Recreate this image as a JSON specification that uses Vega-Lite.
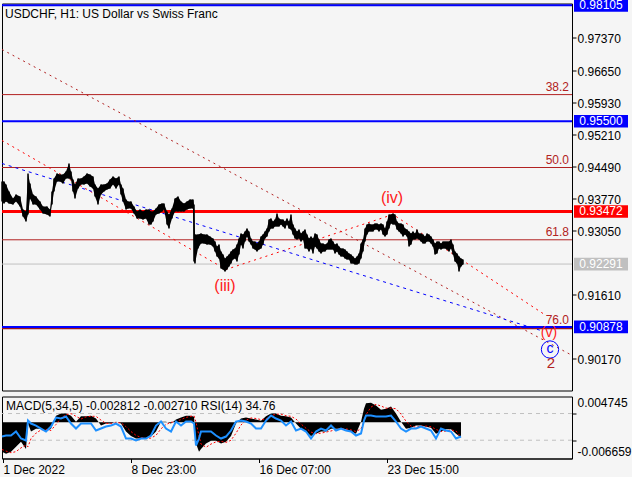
{
  "$schema": "https://vega.github.io/schema/vega-lite/v6.json",
  "background": "#f5f5f5",
  "padding": {"left": -3, "top": -2.5, "right": 0, "bottom": 0},
  "spacing": 4,
  "config": {
    "view": {"stroke": "black", "strokeWidth": 1},
    "font": "Liberation Sans",
    "text": {"font": "Liberation Sans"},
    "axis": {"labelFont": "Liberation Sans", "labelFontSize": 12, "labelColor": "black", "domainColor": "black", "tickColor": "black", "grid": false}
  },
  "datasets": {
    "price": [
      {"t":1,"hi":0.94146,"lo":0.93697},{"t":3,"hi":0.94146,"lo":0.93652},{"t":5,"hi":0.94078,"lo":0.93697},{"t":8,"hi":0.93921,"lo":0.93652},
      {"t":12,"hi":0.93764,"lo":0.93629},{"t":15,"hi":0.93854,"lo":0.93697},{"t":19,"hi":0.93809,"lo":0.93584},{"t":22,"hi":0.93517,"lo":0.93360},
      {"t":25,"hi":0.93472,"lo":0.93247},{"t":27,"hi":0.94326,"lo":0.93405},{"t":29,"hi":0.94101,"lo":0.93764},{"t":32,"hi":0.93854,"lo":0.93629},
      {"t":35,"hi":0.93809,"lo":0.93629},{"t":39,"hi":0.93697,"lo":0.93517},{"t":42,"hi":0.93584,"lo":0.93427},{"t":46,"hi":0.93584,"lo":0.93405},
      {"t":49,"hi":0.93517,"lo":0.93360},{"t":51,"hi":0.93921,"lo":0.93629},{"t":53,"hi":0.94213,"lo":0.93921},{"t":56,"hi":0.94326,"lo":0.94146},
      {"t":59,"hi":0.94303,"lo":0.94146},{"t":62,"hi":0.94303,"lo":0.94101},{"t":65,"hi":0.94371,"lo":0.94213},{"t":68,"hi":0.94550,"lo":0.94213},
      {"t":70,"hi":0.94371,"lo":0.94191},{"t":72,"hi":0.94191,"lo":0.93921},{"t":74,"hi":0.94078,"lo":0.93764},{"t":77,"hi":0.94213,"lo":0.93989},
      {"t":80,"hi":0.94213,"lo":0.94078},{"t":83,"hi":0.94258,"lo":0.94078},{"t":86,"hi":0.94326,"lo":0.94101},{"t":89,"hi":0.94303,"lo":0.94034},
      {"t":92,"hi":0.94258,"lo":0.93989},{"t":94,"hi":0.94078,"lo":0.93809},{"t":97,"hi":0.93989,"lo":0.93629},{"t":100,"hi":0.94078,"lo":0.93854},
      {"t":103,"hi":0.94078,"lo":0.93921},{"t":106,"hi":0.94101,"lo":0.93966},{"t":109,"hi":0.94191,"lo":0.93989},{"t":112,"hi":0.94258,"lo":0.94078},
      {"t":115,"hi":0.94213,"lo":0.93989},{"t":118,"hi":0.94258,"lo":0.94078},{"t":120,"hi":0.94078,"lo":0.93854},{"t":122,"hi":0.93989,"lo":0.93697},
      {"t":125,"hi":0.93742,"lo":0.93517},{"t":127,"hi":0.93697,"lo":0.93539},{"t":130,"hi":0.93697,"lo":0.93539},{"t":133,"hi":0.93584,"lo":0.93427},
      {"t":136,"hi":0.93472,"lo":0.93315},{"t":139,"hi":0.93517,"lo":0.93315},{"t":142,"hi":0.93472,"lo":0.93292},{"t":145,"hi":0.93517,"lo":0.93315},
      {"t":148,"hi":0.93517,"lo":0.93180},{"t":150,"hi":0.93472,"lo":0.93180},{"t":152,"hi":0.93472,"lo":0.93247},{"t":155,"hi":0.93539,"lo":0.93405},
      {"t":158,"hi":0.93629,"lo":0.93427},{"t":161,"hi":0.93652,"lo":0.93472},{"t":163,"hi":0.93652,"lo":0.93517},{"t":166,"hi":0.93472,"lo":0.93180},
      {"t":168,"hi":0.93405,"lo":0.93090},{"t":171,"hi":0.93539,"lo":0.93315},{"t":174,"hi":0.93764,"lo":0.93472},{"t":177,"hi":0.93809,"lo":0.93472},
      {"t":180,"hi":0.93697,"lo":0.93472},{"t":183,"hi":0.93652,"lo":0.93472},{"t":186,"hi":0.93697,"lo":0.93517},{"t":189,"hi":0.93742,"lo":0.93539},
      {"t":192,"hi":0.93742,"lo":0.93539},{"t":193,"hi":0.93629,"lo":0.92349},{"t":194,"hi":0.92955,"lo":0.92304},{"t":197,"hi":0.92955,"lo":0.92641},
      {"t":200,"hi":0.92978,"lo":0.92753},{"t":203,"hi":0.92955,"lo":0.92753},{"t":206,"hi":0.92955,"lo":0.92731},{"t":209,"hi":0.92910,"lo":0.92731},
      {"t":212,"hi":0.92865,"lo":0.92686},{"t":214,"hi":0.92798,"lo":0.92573},{"t":216,"hi":0.92686,"lo":0.92461},{"t":218,"hi":0.92731,"lo":0.92416},
      {"t":220,"hi":0.92573,"lo":0.92192},{"t":222,"hi":0.92506,"lo":0.92169},{"t":224,"hi":0.92416,"lo":0.92124},{"t":226,"hi":0.92461,"lo":0.92169},
      {"t":228,"hi":0.92506,"lo":0.92237},{"t":230,"hi":0.92573,"lo":0.92304},{"t":232,"hi":0.92618,"lo":0.92394},{"t":234,"hi":0.92641,"lo":0.92416},
      {"t":236,"hi":0.92731,"lo":0.92349},{"t":238,"hi":0.92865,"lo":0.92506},{"t":240,"hi":0.92978,"lo":0.92731},{"t":242,"hi":0.92955,"lo":0.92641},
      {"t":244,"hi":0.93023,"lo":0.92798},{"t":246,"hi":0.93090,"lo":0.92910},{"t":248,"hi":0.93023,"lo":0.92798},{"t":250,"hi":0.92865,"lo":0.92731},
      {"t":252,"hi":0.92798,"lo":0.92641},{"t":254,"hi":0.92798,"lo":0.92618},{"t":256,"hi":0.92753,"lo":0.92573},{"t":258,"hi":0.92798,"lo":0.92618},
      {"t":260,"hi":0.92910,"lo":0.92641},{"t":262,"hi":0.92955,"lo":0.92731},{"t":264,"hi":0.93023,"lo":0.92865},{"t":266,"hi":0.93090,"lo":0.92910},
      {"t":268,"hi":0.93292,"lo":0.93023},{"t":270,"hi":0.93315,"lo":0.93090},{"t":272,"hi":0.93247,"lo":0.93090},{"t":274,"hi":0.93292,"lo":0.93135},
      {"t":276,"hi":0.93427,"lo":0.93135},{"t":278,"hi":0.93315,"lo":0.93135},{"t":280,"hi":0.93292,"lo":0.93180},{"t":282,"hi":0.93292,"lo":0.93135},
      {"t":284,"hi":0.93247,"lo":0.93090},{"t":286,"hi":0.93315,"lo":0.93180},{"t":288,"hi":0.93247,"lo":0.93090},{"t":290,"hi":0.93405,"lo":0.93068},
      {"t":292,"hi":0.93180,"lo":0.92955},{"t":294,"hi":0.93090,"lo":0.92865},{"t":296,"hi":0.93023,"lo":0.92843},{"t":298,"hi":0.93068,"lo":0.92865},
      {"t":300,"hi":0.92978,"lo":0.92798},{"t":302,"hi":0.93023,"lo":0.92843},{"t":304,"hi":0.93068,"lo":0.92641},{"t":306,"hi":0.92955,"lo":0.92641},
      {"t":308,"hi":0.92865,"lo":0.92573},{"t":310,"hi":0.92910,"lo":0.92641},{"t":312,"hi":0.92865,"lo":0.92529},{"t":314,"hi":0.92978,"lo":0.92686},
      {"t":316,"hi":0.92955,"lo":0.92641},{"t":318,"hi":0.92843,"lo":0.92573},{"t":320,"hi":0.92753,"lo":0.92529},{"t":322,"hi":0.92753,"lo":0.92573},
      {"t":324,"hi":0.92731,"lo":0.92573},{"t":326,"hi":0.92753,"lo":0.92618},{"t":328,"hi":0.92843,"lo":0.92618},{"t":330,"hi":0.92865,"lo":0.92618},
      {"t":332,"hi":0.92798,"lo":0.92618},{"t":334,"hi":0.92731,"lo":0.92529},{"t":336,"hi":0.92753,"lo":0.92573},{"t":338,"hi":0.92686,"lo":0.92506},
      {"t":340,"hi":0.92641,"lo":0.92461},{"t":342,"hi":0.92641,"lo":0.92461},{"t":344,"hi":0.92618,"lo":0.92416},{"t":346,"hi":0.92573,"lo":0.92394},
      {"t":348,"hi":0.92529,"lo":0.92394},{"t":350,"hi":0.92506,"lo":0.92304},{"t":352,"hi":0.92461,"lo":0.92304},{"t":354,"hi":0.92416,"lo":0.92281},
      {"t":356,"hi":0.92461,"lo":0.92281},{"t":358,"hi":0.92529,"lo":0.92304},{"t":360,"hi":0.92753,"lo":0.92416},{"t":362,"hi":0.92843,"lo":0.92573},
      {"t":364,"hi":0.93090,"lo":0.92798},{"t":366,"hi":0.93180,"lo":0.92955},{"t":368,"hi":0.93202,"lo":0.93023},{"t":370,"hi":0.93180,"lo":0.93023},
      {"t":372,"hi":0.93180,"lo":0.93023},{"t":374,"hi":0.93202,"lo":0.93068},{"t":376,"hi":0.93202,"lo":0.93068},{"t":378,"hi":0.93180,"lo":0.93023},
      {"t":380,"hi":0.93202,"lo":0.93068},{"t":382,"hi":0.93180,"lo":0.92955},{"t":384,"hi":0.93090,"lo":0.92910},{"t":386,"hi":0.93247,"lo":0.92955},
      {"t":388,"hi":0.93405,"lo":0.93090},{"t":390,"hi":0.93405,"lo":0.93202},{"t":392,"hi":0.93427,"lo":0.93180},{"t":394,"hi":0.93405,"lo":0.93180},
      {"t":396,"hi":0.93247,"lo":0.93068},{"t":398,"hi":0.93202,"lo":0.93023},{"t":400,"hi":0.93202,"lo":0.92978},{"t":402,"hi":0.93180,"lo":0.92910},
      {"t":404,"hi":0.93090,"lo":0.92955},{"t":406,"hi":0.93068,"lo":0.92910},{"t":408,"hi":0.93023,"lo":0.92686},{"t":410,"hi":0.92978,"lo":0.92731},
      {"t":412,"hi":0.93023,"lo":0.92843},{"t":414,"hi":0.92978,"lo":0.92843},{"t":416,"hi":0.93068,"lo":0.92865},{"t":418,"hi":0.92978,"lo":0.92843},
      {"t":420,"hi":0.92978,"lo":0.92798},{"t":422,"hi":0.92955,"lo":0.92753},{"t":424,"hi":0.92910,"lo":0.92753},{"t":426,"hi":0.92978,"lo":0.92798},
      {"t":428,"hi":0.92955,"lo":0.92798},{"t":430,"hi":0.92910,"lo":0.92753},{"t":432,"hi":0.92843,"lo":0.92686},{"t":434,"hi":0.92753,"lo":0.92506},
      {"t":436,"hi":0.92798,"lo":0.92529},{"t":438,"hi":0.92798,"lo":0.92641},{"t":440,"hi":0.92753,"lo":0.92618},{"t":442,"hi":0.92798,"lo":0.92641},
      {"t":444,"hi":0.92798,"lo":0.92641},{"t":446,"hi":0.92798,"lo":0.92618},{"t":448,"hi":0.92798,"lo":0.92573},{"t":450,"hi":0.92843,"lo":0.92641},
      {"t":452,"hi":0.92731,"lo":0.92506},{"t":454,"hi":0.92573,"lo":0.92349},{"t":456,"hi":0.92529,"lo":0.92304},{"t":458,"hi":0.92461,"lo":0.92124},
      {"t":460,"hi":0.92416,"lo":0.92237},{"t":462,"hi":0.92394,"lo":0.92281}
    ],
    "hlines": [
      {"price":0.98105,"kind":"blue","label":""},
      {"price":0.955,"kind":"blue","label":""},
      {"price":0.90878,"kind":"blue","label":""},
      {"price":0.93472,"kind":"red","label":""},
      {"price":0.92291,"kind":"gray","label":""},
      {"price":0.96098,"kind":"fib","label":"38.2"},
      {"price":0.94460,"kind":"fib","label":"50.0"},
      {"price":0.92836,"kind":"fib","label":"61.8"},
      {"price":0.90850,"kind":"fib2","label":"76.0"}
    ],
    "diag": [
      {"id":"A","t":1,"p":0.97112},{"id":"A","t":570,"p":0.90252},
      {"id":"B","t":1,"p":0.95067},{"id":"B","t":225,"p":0.92169},{"id":"B","t":392,"p":0.93405},{"id":"B","t":542,"p":0.91180},
      {"id":"C","t":1,"p":0.94550},{"id":"C","t":540,"p":0.90798}
    ],
    "waves": [
      {"label":"(iii)","kind":"big","t":224,"p":0.91787},
      {"label":"(iv)","kind":"big","t":391,"p":0.93786},
      {"label":"(v)","kind":"small","t":548,"p":0.90731},
      {"label":"c","kind":"blue","t":549,"p":0.90371},
      {"label":"2","kind":"dark","t":550,"p":0.90057}
    ],
    "ind": [
      {"t":1,"macd":-0.0054,"sig":-0.0050,"rsi":35.5},{"t":5,"macd":-0.0058,"sig":-0.0053,"rsi":37.0},{"t":10,"macd":-0.0054,"sig":-0.0056,"rsi":37.0},
      {"t":15,"macd":-0.0045,"sig":-0.0054,"rsi":43.0},{"t":20,"macd":-0.0036,"sig":-0.0047,"rsi":32.5},{"t":25,"macd":-0.0049,"sig":-0.0042,"rsi":29.6},
      {"t":27,"macd":-0.0002,"sig":-0.0045,"rsi":59.5},{"t":30,"macd":-0.0017,"sig":-0.0030,"rsi":55.0},{"t":35,"macd":-0.0012,"sig":-0.0020,"rsi":52.0},
      {"t":40,"macd":-0.0012,"sig":-0.0014,"rsi":47.5},{"t":45,"macd":-0.0017,"sig":-0.0013,"rsi":43.0},{"t":50,"macd":-0.0012,"sig":-0.0015,"rsi":50.5},
      {"t":55,"macd":0.0012,"sig":-0.0004,"rsi":64.0},{"t":60,"macd":0.0016,"sig":0.0008,"rsi":62.5},{"t":65,"macd":0.0016,"sig":0.0014,"rsi":65.5},
      {"t":70,"macd":0.0012,"sig":0.0016,"rsi":55.0},{"t":75,"macd":0.0001,"sig":0.0011,"rsi":47.5},{"t":80,"macd":0.0011,"sig":0.0006,"rsi":55.0},
      {"t":85,"macd":0.0011,"sig":0.0010,"rsi":55.0},{"t":90,"macd":0.0012,"sig":0.0011,"rsi":55.0},{"t":95,"macd":0.0007,"sig":0.0011,"rsi":44.5},
      {"t":100,"macd":-0.0006,"sig":0.0004,"rsi":47.5},{"t":105,"macd":-0.0002,"sig":-0.0002,"rsi":50.5},{"t":110,"macd":-0.0002,"sig":-0.0002,"rsi":52.0},
      {"t":115,"macd":0.0001,"sig":-0.0001,"rsi":55.0},{"t":120,"macd":-0.0002,"sig":-0.0001,"rsi":50.5},{"t":125,"macd":-0.0017,"sig":-0.0008,"rsi":32.5},
      {"t":130,"macd":-0.0025,"sig":-0.0017,"rsi":32.5},{"t":135,"macd":-0.0030,"sig":-0.0024,"rsi":29.6},{"t":140,"macd":-0.0030,"sig":-0.0028,"rsi":32.5},
      {"t":145,"macd":-0.0030,"sig":-0.0030,"rsi":32.5},{"t":150,"macd":-0.0026,"sig":-0.0029,"rsi":37.0},{"t":155,"macd":-0.0017,"sig":-0.0024,"rsi":52.0},
      {"t":160,"macd":0.0001,"sig":-0.0012,"rsi":58.0},{"t":165,"macd":0.0001,"sig":-0.0004,"rsi":47.5},{"t":170,"macd":-0.0002,"sig":0.0000,"rsi":43.0},
      {"t":175,"macd":0.0005,"sig":0.0001,"rsi":58.0},{"t":180,"macd":0.0009,"sig":0.0005,"rsi":52.0},{"t":185,"macd":0.0012,"sig":0.0009,"rsi":58.0},
      {"t":190,"macd":0.0012,"sig":0.0011,"rsi":58.0},{"t":193,"macd":0.0010,"sig":0.0012,"rsi":55.0},{"t":195,"macd":-0.0039,"sig":0.0000,"rsi":22.1},
      {"t":198,"macd":-0.0054,"sig":-0.0025,"rsi":32.5},{"t":200,"macd":-0.0049,"sig":-0.0040,"rsi":43.0},{"t":205,"macd":-0.0039,"sig":-0.0046,"rsi":43.0},
      {"t":210,"macd":-0.0034,"sig":-0.0040,"rsi":43.0},{"t":215,"macd":-0.0034,"sig":-0.0036,"rsi":37.0},{"t":220,"macd":-0.0039,"sig":-0.0035,"rsi":32.5},
      {"t":225,"macd":-0.0036,"sig":-0.0037,"rsi":35.5},{"t":230,"macd":-0.0025,"sig":-0.0033,"rsi":44.5},{"t":235,"macd":-0.0002,"sig":-0.0020,"rsi":58.0},
      {"t":240,"macd":0.0007,"sig":-0.0005,"rsi":59.5},{"t":245,"macd":0.0009,"sig":0.0004,"rsi":58.0},{"t":250,"macd":0.0007,"sig":0.0008,"rsi":55.0},
      {"t":255,"macd":0.0005,"sig":0.0007,"rsi":47.5},{"t":260,"macd":0.0003,"sig":0.0005,"rsi":47.5},{"t":265,"macd":0.0011,"sig":0.0006,"rsi":59.5},
      {"t":270,"macd":0.0016,"sig":0.0012,"rsi":67.0},{"t":275,"macd":0.0016,"sig":0.0015,"rsi":62.5},{"t":280,"macd":0.0012,"sig":0.0015,"rsi":59.5},
      {"t":285,"macd":0.0011,"sig":0.0012,"rsi":52.0},{"t":290,"macd":0.0009,"sig":0.0011,"rsi":58.0},{"t":295,"macd":-0.0002,"sig":0.0006,"rsi":44.5},
      {"t":300,"macd":-0.0012,"sig":-0.0003,"rsi":47.5},{"t":305,"macd":-0.0017,"sig":-0.0011,"rsi":43.0},{"t":310,"macd":-0.0025,"sig":-0.0018,"rsi":32.5},
      {"t":315,"macd":-0.0021,"sig":-0.0021,"rsi":43.0},{"t":320,"macd":-0.0017,"sig":-0.0020,"rsi":47.5},{"t":325,"macd":-0.0017,"sig":-0.0018,"rsi":44.5},
      {"t":330,"macd":-0.0012,"sig":-0.0016,"rsi":52.0},{"t":335,"macd":-0.0012,"sig":-0.0013,"rsi":44.5},{"t":340,"macd":-0.0012,"sig":-0.0012,"rsi":47.5},
      {"t":345,"macd":-0.0013,"sig":-0.0012,"rsi":44.5},{"t":350,"macd":-0.0017,"sig":-0.0014,"rsi":43.0},{"t":355,"macd":-0.0021,"sig":-0.0017,"rsi":37.0},
      {"t":360,"macd":0.0001,"sig":-0.0012,"rsi":40.0},{"t":363,"macd":0.0025,"sig":0.0002,"rsi":59.5},{"t":365,"macd":0.0035,"sig":0.0014,"rsi":67.0},
      {"t":370,"macd":0.0036,"sig":0.0028,"rsi":67.0},{"t":375,"macd":0.0031,"sig":0.0033,"rsi":65.5},{"t":380,"macd":0.0023,"sig":0.0030,"rsi":65.5},
      {"t":385,"macd":0.0025,"sig":0.0026,"rsi":65.5},{"t":390,"macd":0.0029,"sig":0.0026,"rsi":67.0},{"t":395,"macd":0.0016,"sig":0.0025,"rsi":58.0},
      {"t":400,"macd":0.0001,"sig":0.0015,"rsi":47.5},{"t":405,"macd":-0.0012,"sig":0.0002,"rsi":43.0},{"t":410,"macd":-0.0010,"sig":-0.0007,"rsi":47.5},
      {"t":415,"macd":-0.0006,"sig":-0.0009,"rsi":47.5},{"t":420,"macd":-0.0006,"sig":-0.0007,"rsi":50.5},{"t":425,"macd":-0.0008,"sig":-0.0007,"rsi":47.5},
      {"t":430,"macd":-0.0010,"sig":-0.0008,"rsi":44.5},{"t":435,"macd":-0.0021,"sig":-0.0013,"rsi":32.5},{"t":440,"macd":-0.0017,"sig":-0.0017,"rsi":47.5},
      {"t":445,"macd":-0.0013,"sig":-0.0016,"rsi":44.5},{"t":450,"macd":-0.0013,"sig":-0.0014,"rsi":43.0},{"t":455,"macd":-0.0021,"sig":-0.0016,"rsi":32.5},
      {"t":460,"macd":-0.0028,"sig":-0.0027,"rsi":35.5}
    ]
  },
  "vconcat": [
    {
      "width": 570,
      "height": 387,
      "layer": [
        {
          "data": {"name": "hlines"},
          "transform": [{"filter": "datum.kind == 'fib'"}],
          "mark": {"type": "rule", "color": "#b22222", "strokeWidth": 1},
          "encoding": {
            "y": {"field": "price", "type": "quantitative", "title": null,
              "scale": {"domain": [0.8945, 0.98145], "nice": false, "zero": false},
              "axis": {"orient": "right", "values": [0.9737, 0.9665, 0.9593, 0.9521, 0.9449, 0.9377, 0.9305, 0.9161, 0.9017], "format": ".5f", "tickSize": 4, "labelPadding": 1, "labelOffset": 1, "title": null, "grid": false}}
          }
        },
        {
          "data": {"name": "hlines"},
          "transform": [{"filter": "datum.kind == 'fib2'"}],
          "mark": {"type": "rule", "color": "#a01818", "strokeWidth": 2},
          "encoding": {"y": {"field": "price", "type": "quantitative", "title": null}}
        },
        {
          "data": {"name": "hlines"},
          "transform": [{"filter": "datum.kind == 'gray'"}],
          "mark": {"type": "rule", "color": "#c0c0c0", "strokeWidth": 1},
          "encoding": {"y": {"field": "price", "type": "quantitative", "title": null}}
        },
        {
          "data": {"name": "hlines"},
          "transform": [{"filter": "datum.kind == 'red'"}],
          "mark": {"type": "rule", "color": "#ff0000", "strokeWidth": 3},
          "encoding": {"y": {"field": "price", "type": "quantitative", "title": null}}
        },
        {
          "data": {"name": "hlines"},
          "transform": [{"filter": "datum.kind == 'blue'"}],
          "mark": {"type": "rule", "color": "#0000ff", "strokeWidth": 2},
          "encoding": {"y": {"field": "price", "type": "quantitative", "title": null}}
        },
        {
          "data": {"name": "hlines"},
          "transform": [{"filter": "datum.kind == 'fib' || datum.kind == 'fib2'"}],
          "mark": {"type": "text", "color": "#b22222", "fontSize": 12, "align": "right", "baseline": "middle", "dy": -8},
          "encoding": {
            "x": {"datum": 568, "scale": {"domain": [1, 571], "nice": false, "zero": false}, "axis": null},
            "y": {"field": "price", "type": "quantitative", "title": null},
            "text": {"field": "label"}
          }
        },
        {
          "data": {"name": "diag"},
          "transform": [{"filter": "datum.id == 'A'"}],
          "mark": {"type": "line", "color": "#b22222", "strokeWidth": 1, "strokeDash": [2, 4]},
          "encoding": {
            "x": {"field": "t", "type": "quantitative", "axis": null, "title": null},
            "y": {"field": "p", "type": "quantitative", "title": null}
          }
        },
        {
          "data": {"name": "diag"},
          "transform": [{"filter": "datum.id == 'B'"}],
          "mark": {"type": "line", "color": "#ff0000", "strokeWidth": 1, "strokeDash": [2, 4]},
          "encoding": {
            "x": {"field": "t", "type": "quantitative", "axis": null, "title": null},
            "y": {"field": "p", "type": "quantitative", "title": null}
          }
        },
        {
          "data": {"name": "diag"},
          "transform": [{"filter": "datum.id == 'C'"}],
          "mark": {"type": "line", "color": "#0000ff", "strokeWidth": 1, "strokeDash": [3, 4]},
          "encoding": {
            "x": {"field": "t", "type": "quantitative", "axis": null, "title": null},
            "y": {"field": "p", "type": "quantitative", "title": null}
          }
        },
        {
          "data": {"name": "price"},
          "mark": {"type": "area", "color": "black", "opacity": 1},
          "encoding": {
            "x": {"field": "t", "type": "quantitative", "axis": null, "title": null},
            "y": {"field": "hi", "type": "quantitative", "title": null},
            "y2": {"field": "lo"}
          }
        },
        {
          "data": {"name": "price"},
          "mark": {"type": "rule", "color": "black", "strokeWidth": 1.5},
          "encoding": {
            "x": {"field": "t", "type": "quantitative", "axis": null, "title": null},
            "y": {"field": "hi", "type": "quantitative", "title": null},
            "y2": {"field": "lo"}
          }
        },
        {
          "data": {"name": "waves"},
          "transform": [{"filter": "datum.kind == 'big'"}],
          "mark": {"type": "text", "color": "#ff2020", "fontSize": 16, "align": "center", "baseline": "middle"},
          "encoding": {
            "x": {"field": "t", "type": "quantitative", "axis": null, "title": null},
            "y": {"field": "p", "type": "quantitative", "title": null},
            "text": {"field": "label"}
          }
        },
        {
          "data": {"name": "waves"},
          "transform": [{"filter": "datum.kind == 'small'"}],
          "mark": {"type": "text", "color": "#ff2020", "fontSize": 14, "align": "center", "baseline": "middle"},
          "encoding": {
            "x": {"field": "t", "type": "quantitative", "axis": null, "title": null},
            "y": {"field": "p", "type": "quantitative", "title": null},
            "text": {"field": "label"}
          }
        },
        {
          "data": {"name": "waves"},
          "transform": [{"filter": "datum.kind == 'blue'"}],
          "mark": {"type": "text", "color": "#0000ff", "fontSize": 14, "align": "center", "baseline": "middle", "dy": -1},
          "encoding": {
            "x": {"field": "t", "type": "quantitative", "axis": null, "title": null},
            "y": {"field": "p", "type": "quantitative", "title": null},
            "text": {"field": "label"}
          }
        },
        {
          "data": {"name": "waves"},
          "transform": [{"filter": "datum.kind == 'blue'"}],
          "mark": {"type": "point", "shape": "circle", "size": 300, "filled": false, "color": "#0000ff", "strokeWidth": 1, "opacity": 1},
          "encoding": {
            "x": {"field": "t", "type": "quantitative", "axis": null, "title": null},
            "y": {"field": "p", "type": "quantitative", "title": null}
          }
        },
        {
          "data": {"name": "waves"},
          "transform": [{"filter": "datum.kind == 'dark'"}],
          "mark": {"type": "text", "color": "#b22222", "fontSize": 15, "align": "center", "baseline": "middle"},
          "encoding": {
            "x": {"field": "t", "type": "quantitative", "axis": null, "title": null},
            "y": {"field": "p", "type": "quantitative", "title": null},
            "text": {"field": "label"}
          }
        },
        {
          "data": {"name": "hlines"},
          "transform": [{"filter": "datum.kind == 'blue' || datum.kind == 'red' || datum.kind == 'gray'"}],
          "mark": {"type": "point", "shape": "M-1,-0.235H1V0.235H-1Z", "size": 2916, "filled": true, "opacity": 1, "strokeWidth": 0},
          "encoding": {
            "x": {"datum": 600},
            "y": {"field": "price", "type": "quantitative", "title": null},
            "color": {"field": "kind", "type": "nominal", "scale": {"domain": ["blue", "red", "gray"], "range": ["#0000ff", "#ff0000", "#c0c0c0"]}, "legend": null}
          }
        },
        {
          "data": {"name": "hlines"},
          "transform": [{"filter": "datum.kind == 'blue' || datum.kind == 'red' || datum.kind == 'gray'"}],
          "mark": {"type": "text", "color": "white", "fontSize": 12, "align": "center", "baseline": "middle"},
          "encoding": {
            "x": {"datum": 600},
            "y": {"field": "price", "type": "quantitative", "title": null},
            "text": {"field": "price", "type": "quantitative", "format": ".5f"}
          }
        },
        {
          "data": {"values": [{}]},
          "mark": {"type": "text", "text": "USDCHF, H1:  US Dollar vs Swiss Franc", "color": "black", "fontSize": 12, "align": "left", "baseline": "middle"},
          "encoding": {
            "x": {"datum": 4},
            "y": {"datum": 0.97909}
          }
        }
      ]
    },
    {
      "width": 570,
      "height": 62,
      "layer": [
        {
          "data": {"values": [{"lvl": 70}, {"lvl": 30}]},
          "mark": {"type": "rule", "color": "#c0c0c0", "strokeDash": [4, 4], "strokeWidth": 1},
          "encoding": {
            "y": {"field": "lvl", "type": "quantitative", "title": null,
              "scale": {"domain": [2.6, 95.5], "nice": false, "zero": false},
              "axis": {"orient": "right", "values": [86.5, 70, 30, 13.1], "labelExpr": "datum.value > 80 ? '0.004745' : datum.value < 20 ? '-0.006659' : format(datum.value, '.2f')", "tickSize": 4, "labelPadding": 1, "title": null, "grid": false,
                "tickColor": {"condition": {"test": "datum.value > 80 || datum.value < 20", "value": "transparent"}, "value": "black"}}}
          }
        },
        {
          "data": {"name": "ind"},
          "mark": {"type": "area", "color": "black", "opacity": 1},
          "encoding": {
            "x": {"field": "t", "type": "quantitative", "title": null,
              "scale": {"domain": [1, 571], "nice": false, "zero": false},
              "axis": {"orient": "bottom", "values": [2, 130, 258, 386], "labelExpr": "datum.value < 100 ? '1 Dec 2022' : datum.value < 200 ? '8 Dec 23:00' : datum.value < 300 ? '16 Dec 07:00' : '23 Dec 15:00'", "labelAlign": "left", "tickSize": 4, "labelPadding": 2, "title": null, "grid": false}},
            "y": {"field": "macd", "type": "quantitative", "title": null, "scale": {"domain": [-0.006659, 0.004745], "nice": false, "zero": false}, "axis": null},
            "y2": {"datum": 0}
          }
        },
        {
          "data": {"name": "ind"},
          "mark": {"type": "line", "color": "#ff0000", "strokeWidth": 1, "strokeDash": [2, 2]},
          "encoding": {
            "x": {"field": "t", "type": "quantitative", "title": null},
            "y": {"field": "sig", "type": "quantitative", "title": null, "scale": {"domain": [-0.006659, 0.004745], "nice": false, "zero": false}, "axis": null}
          }
        },
        {
          "data": {"name": "ind"},
          "mark": {"type": "line", "color": "#1e90ff", "strokeWidth": 2},
          "encoding": {
            "x": {"field": "t", "type": "quantitative", "title": null},
            "y": {"field": "rsi", "type": "quantitative", "title": null, "scale": {"domain": [2.6, 95.5], "nice": false, "zero": false}, "axis": null}
          }
        },
        {
          "data": {"values": [{}]},
          "mark": {"type": "text", "text": "MACD(5,34,5) -0.002812 -0.002710 RSI(14) 34.76", "color": "black", "fontSize": 12, "align": "left", "baseline": "middle"},
          "encoding": {
            "x": {"datum": 5},
            "y": {"datum": 82, "scale": {"domain": [2.6, 95.5], "nice": false, "zero": false}, "axis": null}
          }
        }
      ],
      "resolve": {"scale": {"y": "independent"}}
    }
  ]
}
